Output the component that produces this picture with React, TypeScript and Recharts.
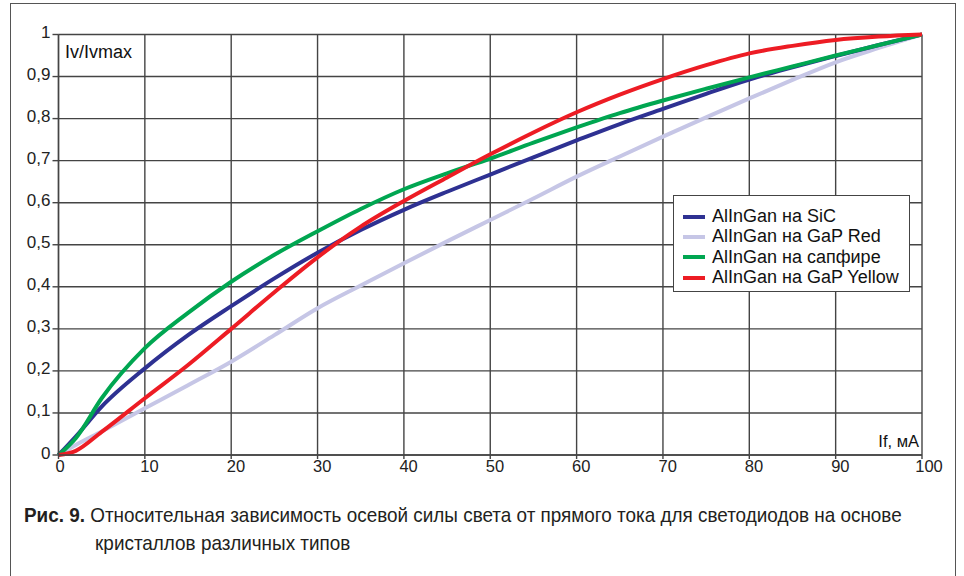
import React from "react";
import { LineChart, Line, XAxis, YAxis, CartesianGrid, Legend } from "recharts";

// ток, мА
const current = [0, 2, 5, 10, 15, 20, 25, 30, 35, 40, 45, 50, 55, 60, 65, 70, 75, 80, 85, 90, 95, 100];

// Iv/Ivmax по типам кристаллов
const sic = [0, 0.044, 0.115, 0.206, 0.285, 0.354, 0.42, 0.481, 0.535, 0.583, 0.626, 0.667, 0.708, 0.748, 0.787, 0.823, 0.859, 0.893, 0.922, 0.949, 0.975, 1];
const gapRed = [0, 0.024, 0.056, 0.111, 0.166, 0.222, 0.285, 0.349, 0.403, 0.456, 0.508, 0.559, 0.61, 0.662, 0.71, 0.757, 0.803, 0.848, 0.892, 0.934, 0.968, 1];
const sapphire = [0, 0.04, 0.135, 0.254, 0.338, 0.412, 0.476, 0.532, 0.585, 0.632, 0.67, 0.705, 0.743, 0.779, 0.813, 0.843, 0.871, 0.898, 0.924, 0.95, 0.975, 1];
const gapYellow = [0, 0.01, 0.055, 0.135, 0.214, 0.3, 0.387, 0.47, 0.543, 0.604, 0.66, 0.715, 0.767, 0.815, 0.857, 0.894, 0.927, 0.955, 0.973, 0.987, 0.995, 1];

const xTicks = [0, 10, 20, 30, 40, 50, 60, 70, 80, 90, 100];
const yTicks = [0, 0.1, 0.2, 0.3, 0.4, 0.5, 0.6, 0.7, 0.8, 0.9, 1];

const series = [
  { key: "sic", name: "AlInGan на SiC", color: "#2e3192" },
  { key: "gapRed", name: "AlInGan на GaP Red", color: "#c6c6e6" },
  { key: "sapphire", name: "AlInGan на сапфире", color: "#00a651" },
  { key: "gapYellow", name: "AlInGan на GaP Yellow", color: "#ed1c24" },
];

const data = current.map((x, i) => ({
  x,
  sic: sic[i],
  gapRed: gapRed[i],
  sapphire: sapphire[i],
  gapYellow: gapYellow[i],
}));

const font = "'Liberation Sans', Arial, sans-serif";
const gridColor = "#444";

const fmtY = (v: number) => (v === 0 || v === 1 ? String(v) : v.toFixed(1).replace(".", ","));

const YTick = ({ x, y, payload }: any) => (
  <text x={x} y={y + 3.5} textAnchor="end" fontSize={17} fontFamily={font} fill="#222">
    {fmtY(payload.value)}
  </text>
);

// подписи по X в оригинале чуть смещены вправо
const XTick = ({ x, y, payload }: any) => {
  const shift = payload.value === 0 ? 1.5 : payload.value === 100 ? 7 : 4.7;
  return (
    <text x={x + shift} y={y + 13.3} textAnchor="middle" fontSize={16.5} fontFamily={font} fill="#222">
      {payload.value}
    </text>
  );
};

const LegendBox = () => (
  <div
    style={{
      border: "1.3px solid #444",
      background: "#fff",
      padding: "10.5px 0 0 9px",
      fontFamily: font,
      fontSize: 18,
      color: "#111",
      boxSizing: "border-box",
      width: 237,
      height: 97,
    }}
  >
    {series.map((s) => (
      <div key={s.key} style={{ display: "flex", alignItems: "center", height: 20.3, whiteSpace: "nowrap" }}>
        <span style={{ display: "inline-block", width: 22, height: 4, background: s.color, marginRight: 7 }} />
        <span>{s.name}</span>
      </div>
    ))}
  </div>
);

export default function App() {
  return (
    <div style={{ position: "absolute", left: 0, top: 0, width: 964, height: 576, background: "#fff", overflow: "hidden" }}>
      <div
        style={{
          position: "absolute",
          left: 10,
          top: 3,
          width: 946,
          height: 600,
          border: "1.5px solid #555",
          boxSizing: "border-box",
        }}
      />
      <div style={{ position: "absolute", left: 0, top: 0 }}>
        <LineChart
          width={964}
          height={490}
          data={data}
          margin={{ top: 34.5, right: 42, bottom: 5, left: 8.5 }}
        >
          <CartesianGrid stroke={gridColor} strokeWidth={1.4} />
          <XAxis
            dataKey="x"
            type="number"
            domain={[0, 100]}
            ticks={xTicks}
            height={30}
            tickSize={4}
            tickMargin={0}
            axisLine={{ stroke: gridColor, strokeWidth: 1.4 }}
            tickLine={{ stroke: gridColor, strokeWidth: 1.4 }}
            tick={<XTick />}
            interval={0}
          />
          <YAxis
            type="number"
            domain={[0, 1]}
            ticks={yTicks}
            width={50}
            tickSize={6}
            tickMargin={2}
            axisLine={{ stroke: gridColor, strokeWidth: 1.4 }}
            tickLine={{ stroke: gridColor, strokeWidth: 1.4 }}
            tick={<YTick />}
            interval={0}
          />
          {["gapRed", "sic", "sapphire", "gapYellow"].map((k) => {
            const s = series.find((d) => d.key === k)!;
            return (
              <Line
                key={k}
                dataKey={k}
                name={s.name}
                type="monotone"
                stroke={s.color}
                strokeWidth={4}
                dot={false}
                isAnimationActive={false}
              />
            );
          })}
          <Legend
            layout="vertical"
            align="center"
            verticalAlign="middle"
            content={<LegendBox />}
            wrapperStyle={{ left: 673, top: 195, width: 237, height: 97 }}
          />
          <text x={65} y={58} fontSize={18} fontFamily={font} fill="#111">
            Iv/Ivmax
          </text>
          <text x={919} y={447} fontSize={16.5} fontFamily={font} fill="#111" textAnchor="end">
            If, мА
          </text>
        </LineChart>
      </div>
      <div
        style={{
          position: "absolute",
          left: 24,
          top: 500.5,
          fontFamily: font,
          fontSize: 21,
          lineHeight: "28px",
          color: "#231f20",
          whiteSpace: "nowrap",
          transform: "scaleX(0.9)",
          transformOrigin: "left top",
        }}
      >
        <div>
          <b>Рис. 9.</b> Относительная зависимость осевой силы света от прямого тока для светодиодов на основе
        </div>
        <div style={{ paddingLeft: 79 }}>кристаллов различных типов</div>
      </div>
    </div>
  );
}
